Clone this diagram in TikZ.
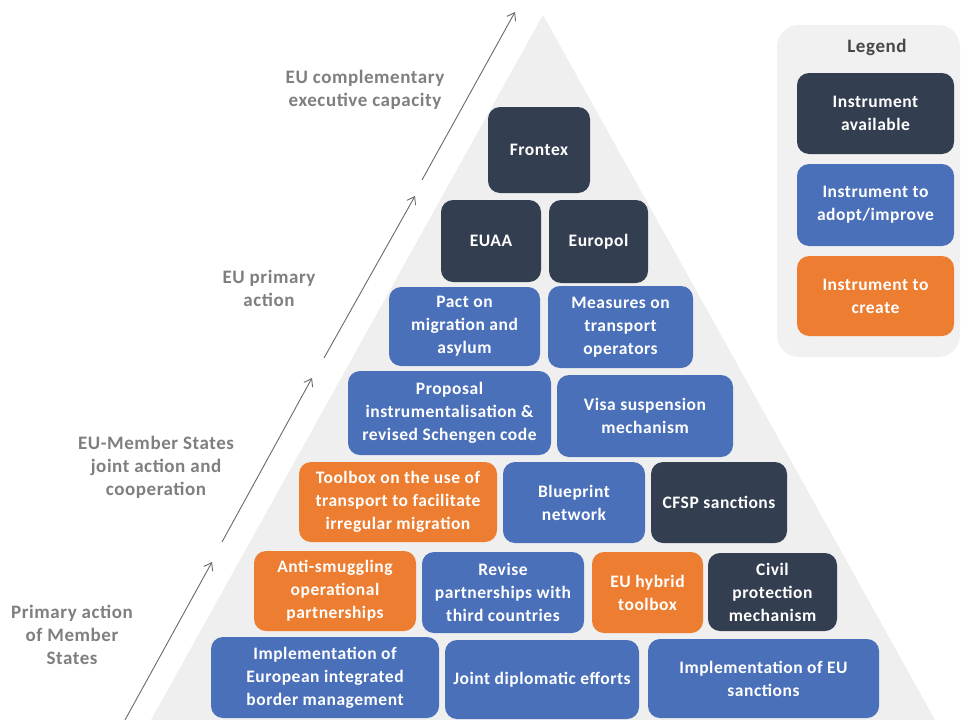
\documentclass[tikz,border=0pt]{standalone}
\usepackage{fontspec}
\setmainfont{Carlito}
\newfontfamily\boxfont[LetterSpace=3]{Carlito}
\newfontfamily\lblfont[LetterSpace=3]{Carlito}
\usetikzlibrary{arrows.meta}
\definecolor{navy}{HTML}{333F50}
\definecolor{midblue}{HTML}{4A70BA}
\definecolor{orng}{HTML}{ED7D31}
\definecolor{pyr}{HTML}{EFEFEF}
\definecolor{legbg}{HTML}{F1F1F1}
\definecolor{lbl}{HTML}{7F7F7F}
\definecolor{arr}{HTML}{6A6A6A}
\tikzset{
  inst/.style={rounded corners=12pt, text=white, align=center, inner sep=2pt,
    font=\boxfont\fontsize{17.5}{23}\selectfont\bfseries},
  avail/.style={inst, fill=navy},
  adopt/.style={inst, fill=midblue},
  create/.style={inst, fill=orng},
  lvl/.style={text=lbl, align=center, font=\lblfont\fontsize{19}{23}\selectfont\bfseries},
  uparrow/.style={draw=arr, line width=0.9pt, -{Straight Barb[length=7pt,width=10pt]}},
}
\newcommand{\bx}[7]{\node[#1, minimum width=#5pt, minimum height=#6pt] (#2) at (#3,#4) {#7};}
\begin{document}
\begin{tikzpicture}[x=1pt,y=-1pt]
\useasboundingbox (0,0) rectangle (961,720);
\fill[white] (0,0) rectangle (961,720);
% pyramid
\fill[pyr] (543,15) -- (935,720) -- (151,720) -- cycle;
% legend background
\fill[legbg, rounded corners=22pt] (777,25) rectangle (960,357);
\node[text=black!72, font=\lblfont\fontsize{19}{22}\selectfont\bfseries] (legtitle) at (877,47) {Legend};
\bx{avail}{lg1}{875.5}{113.5}{157}{81}{Instrument\\available}
\bx{adopt}{lg2}{875.5}{205}{157}{82}{Instrument to\\adopt/improve}
\bx{create}{lg3}{875.5}{296}{157}{80}{Instrument to\\create}
% pyramid boxes
\bx{avail}{frontex}{539}{150}{102}{86}{Frontex}
\bx{avail}{euaa}{491}{241}{100}{82}{EUAA}
\bx{avail}{europol}{598.5}{241.5}{99}{83}{Europol}
\bx{adopt}{pact}{464.5}{326.5}{151}{79}{Pact on\\migration and\\asylum}
\bx{adopt}{measures}{620.5}{327}{145}{82}{Measures on\\transport\\operators}
\bx{adopt}{proposal}{449.5}{413}{203}{84}{Proposal\\instrumentalisation \&\\revised Schengen code}
\bx{adopt}{visa}{645}{416}{176}{82}{Visa suspension\\mechanism}
\bx{create}{toolbox}{398}{502}{198}{80}{Toolbox on the use of\\transport to facilitate\\irregular migration}
\bx{adopt}{blueprint}{574}{502.5}{142}{81}{Blueprint\\network}
\bx{avail}{cfsp}{719}{502.5}{136}{81}{CFSP sanctions}
\bx{create}{antismug}{335}{591}{162}{80}{Anti-smuggling\\operational\\partnerships}
\bx{adopt}{revise}{503}{592.5}{162}{81}{Revise\\partnerships with\\third countries}
\bx{create}{hybrid}{647.5}{592.5}{111}{81}{EU hybrid\\toolbox}
\bx{avail}{civil}{772.5}{592}{129}{78}{Civil\\protection\\mechanism}
\bx{adopt}{eibm}{325}{677.5}{228}{81}{Implementation of\\European integrated\\border management}
\bx{adopt}{joint}{542}{679.5}{194}{79}{Joint diplomatic efforts}
\bx{adopt}{sanctions}{763.5}{678.5}{231}{79}{Implementation of EU\\sanctions}
% level labels
\node[lvl] (l1) at (365,90) {EU complementary\\executive capacity};
\node[lvl] (l2) at (269,288) {EU primary\\action};
\node[lvl] (l3) at (156,467) {EU-Member States\\joint action and\\cooperation};
\node[lvl] (l4) at (72,635) {Primary action\\of Member\\States};
% arrows
\coordinate (a1s) at (422,180); \coordinate (a1e) at (515,12);
\coordinate (a2s) at (324,358); \coordinate (a2e) at (415,196);
\coordinate (a3s) at (222,542); \coordinate (a3e) at (312,378);
\coordinate (a4s) at (125,720); \coordinate (a4e) at (212,562);
\draw[uparrow] (a1s) -- (a1e);
\draw[uparrow] (a2s) -- (a2e);
\draw[uparrow] (a3s) -- (a3e);
\draw[uparrow] (a4s) -- (a4e);
\end{tikzpicture}
\end{document}
